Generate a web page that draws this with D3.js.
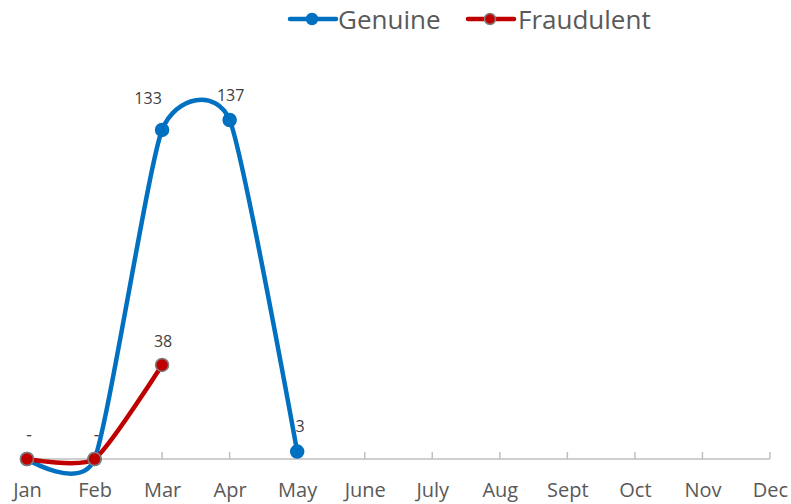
<!DOCTYPE html>
<html><head><meta charset="utf-8">
<script src="https://cdn.jsdelivr.net/npm/d3@7"></script>
<style>
html,body{margin:0;padding:0;background:#fff;}
svg{display:block;font-family:"Open Sans","Noto Sans",sans-serif;}
</style></head>
<body>
<svg id="c" width="791" height="504"></svg>
<script>
const months = ["Jan","Feb","Mar","Apr","May","June","July","Aug","Sept","Oct","Nov","Dec"];
const genuine = [0, 0, 133, 137, 3];
const fraudulent = [0, 0, 38];
const seriesNames = ["Genuine", "Fraudulent"];
const seriesColors = ["#0070c0", "#c00000"];

const svg = d3.select("#c");
const x = d3.scalePoint().domain(months).range([27, 770]);
const y = d3.scaleLinear().domain([0, 137]).range([459, 120]);

// axis
const axis = d3.axisBottom(x).tickSize(0).tickPadding(0);
const gx = svg.append("g").attr("transform", "translate(0,459)").call(axis);
gx.select(".domain").remove();
gx.selectAll(".tick text").attr("y", 38).attr("dy", 0).attr("font-size", 20).attr("fill", "#595959")
  .attr("font-family", "'Open Sans','Noto Sans',sans-serif");
svg.append("line").attr("x1", x("Jan")).attr("x2", x("Dec")).attr("y1", 459).attr("y2", 459)
  .attr("stroke", "#bfbfbf").attr("stroke-width", 1.5);
svg.selectAll(".tk").data(months).join("line").attr("class","tk")
  .attr("x1", d => x(d)).attr("x2", d => x(d)).attr("y1", 452).attr("y2", 459)
  .attr("stroke", "#bfbfbf").attr("stroke-width", 1.5);

const line = d3.line().x((d,i) => x(months[i])).y(d => y(d)).curve(d3.curveCardinal.tension(0.4));

function drawSeries(vals, color, markerStroke, dxs, dys) {
  svg.append("path").datum(vals).attr("d", line).attr("fill", "none")
    .attr("stroke", color).attr("stroke-width", 4.5).attr("stroke-linecap", "round");
  svg.selectAll(null).data(vals).join("circle")
    .attr("cx", (d,i) => x(months[i])).attr("cy", d => y(d)).attr("r", 6.5)
    .attr("fill", color).attr("stroke", markerStroke).attr("stroke-width", 1.5);
  svg.selectAll(null).data(vals).join("text")
    .attr("x", (d,i) => x(months[i]) + dxs[i]).attr("y", (d,i) => y(d) + dys[i])
    .attr("text-anchor", "middle").attr("font-size", 16).attr("fill", "#404040")
    .text(d => d === 0 ? "-" : d);
}
drawSeries(genuine, seriesColors[0], seriesColors[0], [2, 2, -14, 1, 3], [-19, -19, -26, -19, -20]);
drawSeries(fraudulent, seriesColors[1], "#7f7f7f", [2, 2, 1], [-19, -19, -18]);

// legend
const leg = [{x: 290, tx: 338}, {x: 468, tx: 518}];
seriesNames.forEach((n, i) => {
  const g = svg.append("g");
  g.append("line").attr("x1", leg[i].x).attr("x2", leg[i].x + 46).attr("y1", 19).attr("y2", 19)
    .attr("stroke", seriesColors[i]).attr("stroke-width", 4.5).attr("stroke-linecap", "round");
  g.append("circle").attr("cx", leg[i].x + 22).attr("cy", 19).attr("r", 5.5)
    .attr("fill", seriesColors[i]).attr("stroke", i === 0 ? seriesColors[i] : "#7f7f7f").attr("stroke-width", 1.5);
  g.append("text").attr("x", leg[i].tx).attr("y", 29).attr("font-size", 26).attr("fill", "#595959").text(n);
});
</script>
</body></html>
